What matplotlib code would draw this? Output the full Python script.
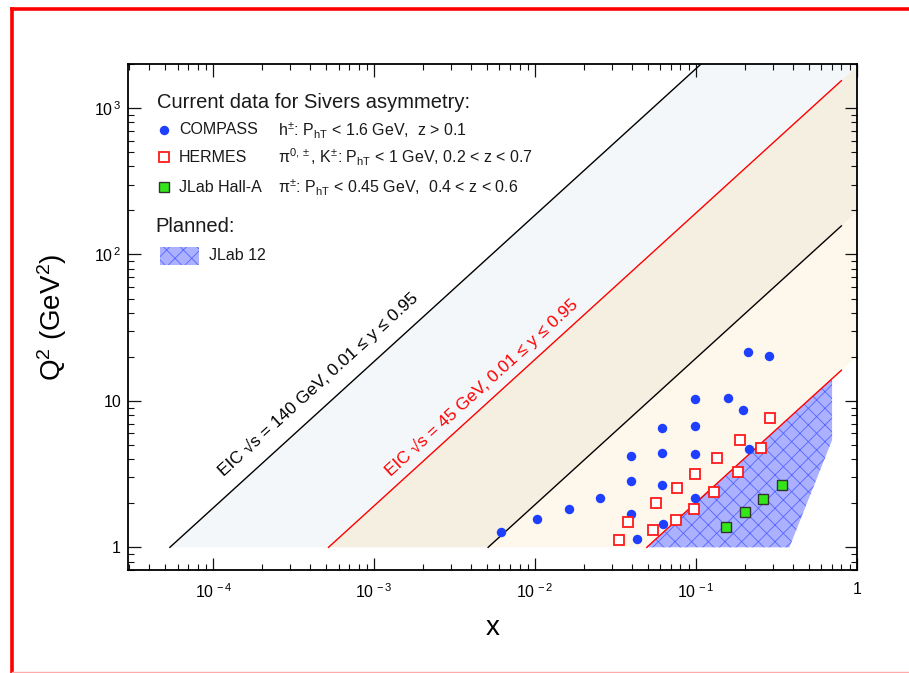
import numpy as np
import matplotlib
matplotlib.use("Agg")
import matplotlib.pyplot as plt
from matplotlib.patches import Polygon, Rectangle
from matplotlib.lines import Line2D
from matplotlib.ticker import LogLocator, NullFormatter, FixedLocator, FixedFormatter

plt.rcParams['font.family'] = ['Liberation Sans', 'DejaVu Sans']
plt.rcParams['mathtext.fontset'] = 'custom'
plt.rcParams['mathtext.rm'] = 'Liberation Sans'
plt.rcParams['mathtext.it'] = 'Liberation Sans'
plt.rcParams['mathtext.sf'] = 'Liberation Sans'
plt.rcParams['hatch.linewidth'] = 0.6

# ---------------- data ----------------
compass_x = [0.0061, 0.0103, 0.0162, 0.0253,
             0.0393, 0.0393, 0.0393, 0.0432,
             0.0612, 0.0612, 0.0612, 0.0627,
             0.099, 0.099, 0.099, 0.099,
             0.158, 0.195, 0.211, 0.282, 0.213]
compass_q2 = [1.27, 1.55, 1.83, 2.16,
              4.22, 2.85, 1.70, 1.14,
              6.50, 4.39, 2.65, 1.44,
              10.25, 6.71, 4.32, 2.16,
              10.5, 8.62, 21.7, 20.3, 4.67]

hermes_x = [0.0333, 0.0376, 0.0541, 0.0565, 0.0745, 0.0759, 0.0974,
            0.0991, 0.130, 0.134, 0.181, 0.187, 0.255, 0.286]
hermes_q2 = [1.12, 1.49, 1.31, 2.01, 1.54, 2.54, 1.84,
             3.15, 2.39, 4.09, 3.27, 5.43, 4.79, 7.64]

jlab_x = [0.154, 0.202, 0.261, 0.343]
jlab_q2 = [1.37, 1.75, 2.14, 2.66]

# JLab 12 planned coverage (x, Q^2) vertices
jlab12_x = [0.0494, 0.70, 0.70, 0.38]
jlab12_q2 = [1.0, 14.2, 5.4, 1.0]

# EIC kinematic limits: Q^2 = x * y * s
eic_sqrt_s = [140.0, 45.0]
eic_colors = ['black', 'red']
y_lo, y_hi = 0.01, 0.95
x_line_end = 0.8

xticks = [1e-4, 1e-3, 1e-2, 1e-1, 1.0]
xticklabels = [r'$\mathregular{10^{\,-4}}$', r'$\mathregular{10^{\,-3}}$',
               r'$\mathregular{10^{\,-2}}$', r'$\mathregular{10^{\,-1}}$', '1']
yticks = [1, 10, 100, 1000]
yticklabels = ['1', '10', r'$\mathregular{10^{\,2}}$', r'$\mathregular{10^{\,3}}$']

# ---------------- figure ----------------
W, H = 909, 673
fig = plt.figure(figsize=(W / 100, H / 100), dpi=100)
ax_l, ax_r, ax_t, ax_b = 128, 857, 64, 570
ax = fig.add_axes([ax_l / W, 1 - ax_b / H, (ax_r - ax_l) / W, (ax_b - ax_t) / H])
ax.set_xscale('log')
ax.set_yscale('log')
ax.set_xlim(2.95e-5, 1.0)
ax.set_ylim(0.70, 2000)

# kinematic bands
a140_hi = y_hi * eic_sqrt_s[0] ** 2
a140_lo = y_lo * eic_sqrt_s[0] ** 2
a45_hi = y_hi * eic_sqrt_s[1] ** 2
a45_lo = y_lo * eic_sqrt_s[1] ** 2


def band(a_up, a_dn, color):
    verts = [(1 / a_up, 1.0), (1.0, a_up), (1.0, a_dn), (1 / a_dn, 1.0)]
    ax.add_patch(Polygon(verts, closed=True, facecolor=color, edgecolor='none', zorder=1))


band(a140_hi, a45_hi, '#f3f7f9')
band(a45_hi, a140_lo, '#f4efe0')
band(a140_lo, a45_lo, '#fdf8eb')

# JLab 12 hatched region
ax.add_patch(Polygon(list(zip(jlab12_x, jlab12_q2)), closed=True, facecolor='#abb0ff',
                     edgecolor='#5566ff', hatch='xx', linewidth=0, zorder=2))

# EIC lines
for rs, col in zip(eic_sqrt_s, eic_colors):
    s = rs ** 2
    for yv in (y_hi, y_lo):
        xs = np.array([1 / (yv * s), x_line_end])
        ax.plot(xs, xs * yv * s, color=col, lw=1.0, zorder=3)

# data
ax.plot(compass_x, compass_q2, 'o', color='#1f3fff', ms=6.8, mec='none', zorder=5)
ax.plot(hermes_x, hermes_q2, 's', mfc='white', mec='#ff1a1a', mew=1.3, ms=7.0, zorder=5)
ax.plot(jlab_x, jlab_q2, 's', mfc='#33e619', mec='#333333', mew=1.0, ms=7.5, zorder=5)

# rotated line annotations
def line_angle(a):
    p1 = ax.transData.transform((1e-3, a * 1e-3))
    p2 = ax.transData.transform((1e-2, a * 1e-2))
    return np.degrees(np.arctan2(p2[1] - p1[1], p2[0] - p1[0]))


ax.text(4.47e-4, 13.0, 'EIC √s = 140 GeV, 0.01 ≤ y ≤ 0.95', color='black', fontsize=12.5,
        rotation=line_angle(a140_hi), rotation_mode='anchor', ha='center', va='center', zorder=4)
ax.text(4.63e-3, 12.4, 'EIC √s = 45 GeV, 0.01 ≤ y ≤ 0.95', color='red', fontsize=12.5,
        rotation=line_angle(a45_hi), rotation_mode='anchor', ha='center', va='center', zorder=4)

# axes styling
ax.xaxis.set_major_locator(FixedLocator(xticks))
ax.xaxis.set_major_formatter(FixedFormatter(xticklabels))
ax.yaxis.set_major_locator(FixedLocator(yticks))
ax.yaxis.set_major_formatter(FixedFormatter(yticklabels))
ax.xaxis.set_minor_locator(LogLocator(base=10, subs=np.arange(2, 10), numticks=20))
ax.yaxis.set_minor_locator(LogLocator(base=10, subs=np.arange(2, 10), numticks=20))
ax.xaxis.set_minor_formatter(NullFormatter())
ax.yaxis.set_minor_formatter(NullFormatter())
ax.tick_params(which='both', direction='in', top=True, right=True, color='#111111')
ax.tick_params(which='major', length=9, width=0.9, labelsize=11.5)
ax.tick_params(which='minor', length=4.5, width=0.8)
ax.tick_params(axis='x', which='major', pad=9)
ax.tick_params(axis='y', which='major', pad=5)
for sp in ax.spines.values():
    sp.set_linewidth(1.3)
    sp.set_zorder(6)

ax.set_xlabel('x', fontsize=20)
ax.xaxis.set_label_coords(0.5, (ax_b - 628) / (ax_b - ax_t))
ax.xaxis.label.set_va('center')
ax.set_ylabel(r'Q$^2$ (GeV$^2$)', fontsize=20)
ax.yaxis.set_label_coords((52 - ax_l) / (ax_r - ax_l), 0.5)
ax.yaxis.label.set_va('center')

# legend block (axes-fraction positions)
def fx(px):
    return (px - ax_l) / (ax_r - ax_l)


def fy(py):
    return (ax_b - py) / (ax_b - ax_t)


tc = '#1a1a1a'
ax.text(fx(157), fy(103), 'Current data for Sivers asymmetry:', transform=ax.transAxes,
        fontsize=14.5, color=tc, va='center', ha='left', zorder=7)
rows = [
    (130, dict(marker='o', color='#1f3fff', ms=6.8, mec='none', ls='none'),
     'COMPASS', r'h$^{\pm}$: P$_{\mathregular{hT}}$ < 1.6 GeV,  z > 0.1'),
    (157, dict(marker='s', mfc='white', mec='#ff1a1a', mew=1.3, ms=7.0, ls='none'),
     'HERMES', r'π$^{0,\pm}$, K$^{\pm}$: P$_{\mathregular{hT}}$ < 1 GeV, 0.2 < z < 0.7'),
    (187, dict(marker='s', mfc='#33e619', mec='#333333', mew=1.0, ms=7.0, ls='none'),
     'JLab Hall-A', r'π$^{\pm}$: P$_{\mathregular{hT}}$ < 0.45 GeV,  0.4 < z < 0.6'),
]
for py, style, name, cond in rows:
    ax.plot([fx(164)], [fy(py)], transform=ax.transAxes, clip_on=False, zorder=7, **style)
    ax.text(fx(179), fy(py), name, transform=ax.transAxes, fontsize=11.5, color=tc,
            va='center', ha='left', zorder=7)
    ax.text(fx(278), fy(py), cond, transform=ax.transAxes, fontsize=11.5, color=tc,
            va='center', ha='left', zorder=7)

ax.text(fx(155), fy(226), 'Planned:', transform=ax.transAxes,
        fontsize=14.5, color=tc, va='center', ha='left', zorder=7)
ax.add_patch(Rectangle((fx(160), fy(265)), fx(199) - fx(160), fy(247) - fy(265),
                       transform=ax.transAxes, facecolor='#abb0ff', edgecolor='#5566ff',
                       hatch='xx', linewidth=0, zorder=7))
ax.text(fx(209), fy(256), 'JLab 12', transform=ax.transAxes, fontsize=11.5, color=tc,
        va='center', ha='left', zorder=7)

# red frame around the figure
fig.add_artist(Line2D([12 / W, 12 / W], [0, 1 - 9 / H], color='#ff0000', lw=2.6,
                      transform=fig.transFigure))
fig.add_artist(Line2D([12 / W, 1], [1 - 9 / H, 1 - 9 / H], color='#ff0000', lw=2.6,
                      transform=fig.transFigure))
fig.add_artist(Line2D([12 / W, 1], [1 - 671.5 / H, 1 - 671.5 / H], color='#ffaaaa', lw=1.0,
                      transform=fig.transFigure))

fig.savefig('out.png', dpi=100)
